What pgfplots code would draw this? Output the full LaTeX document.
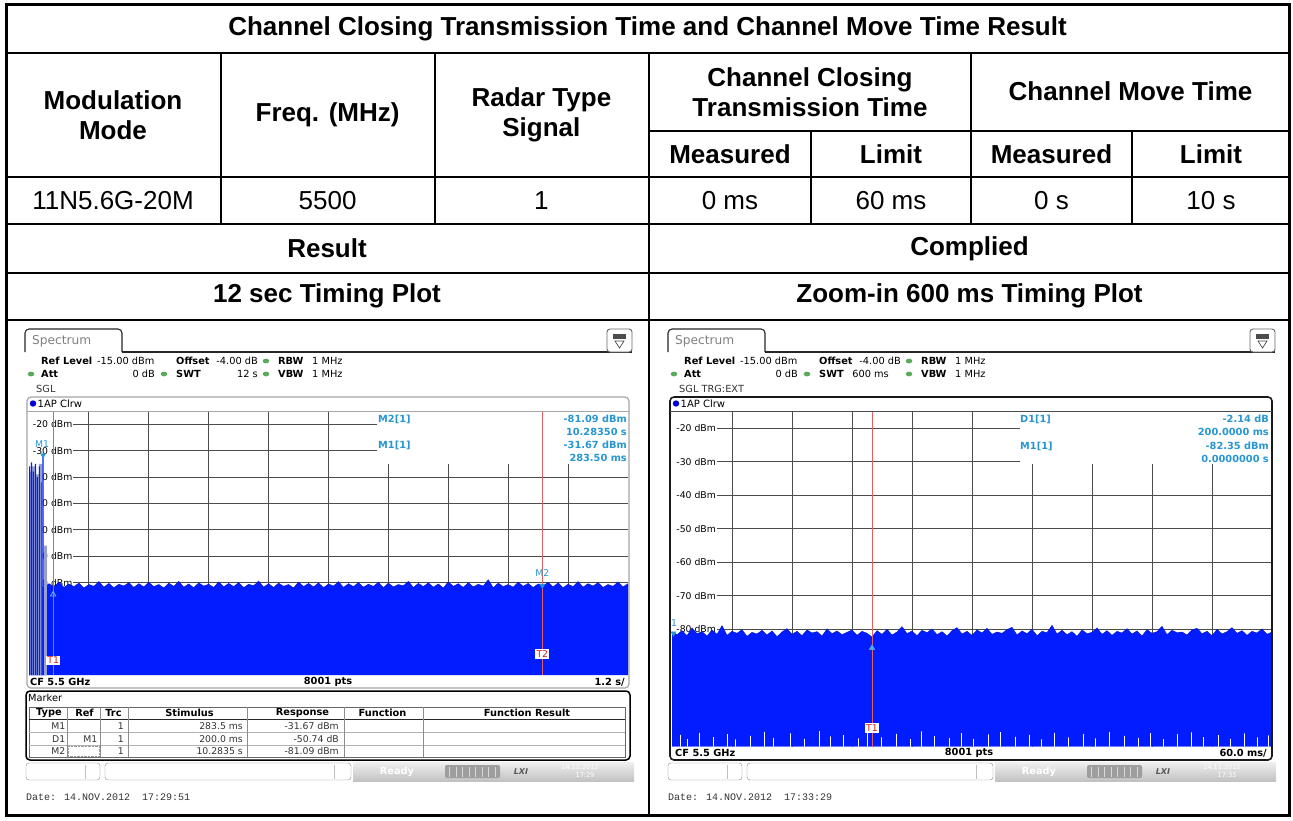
\documentclass[border=0pt]{standalone}
\usepackage{pgfplots}
\pgfplotsset{compat=1.18}
\usepackage{fontspec}
\setmainfont{Liberation Sans}
\newfontfamily\dv{DejaVu Sans}
\newfontfamily\mono{Liberation Mono}
\definecolor{gridc}{RGB}{75,75,75}
\definecolor{trace}{RGB}{0,28,255}
\definecolor{burst}{RGB}{150,160,205}
\definecolor{mk}{RGB}{40,150,210}
\definecolor{redl}{RGB}{228,95,95}
\definecolor{redt}{RGB}{215,30,30}
\definecolor{grn}{RGB}{90,170,90}
\definecolor{frameg}{RGB}{165,165,165}
\newcommand{\tfb}{\fontsize{26}{30}\selectfont\bfseries}
\newcommand{\tfr}{\fontsize{26}{30}\selectfont}
\newcommand{\scr}{\dv\fontsize{9.8}{11}\selectfont}
\newcommand{\scrb}{\dv\bfseries\fontsize{9.8}{11}\selectfont}
\newcommand{\scrl}{\dv\fontsize{9.3}{11}\selectfont}

\newcommand{\chrome}[3]{%
 \draw[line width=1.1pt, black!85, rounded corners=4pt] (25,352)--(25,329)--(122,329)--(122,352);
 \draw[line width=1.1pt, black!85] (122,352)--(632,352);
 \draw[line width=0.9pt, black!60, rounded corners=3pt, fill=white] (607,329) rectangle (632,352);
 \fill[black!70] (613,333.5) rectangle (626,338.5);
 \draw[black!70, line width=0.7pt] (615,341)--(624,341)--(619.5,348)--cycle;
 \node[anchor=west, text=black!50, font=\dv\fontsize{12.2}{14}\selectfont] at (32,341.5) {Spectrum};
 \node[anchor=west, font=\scrb] at (41,361) {Ref Level};
 \node[anchor=west, font=\scr] at (97,361) {-15.00 dBm};
 \node[anchor=west, font=\scrb] at (176,361) {Offset};
 \node[anchor=east, font=\scr] at (258,361) {-4.00 dB};
 \fill[grn] (266,361) ellipse (3.3 and 2.4);
 \node[anchor=west, font=\scrb] at (278,361) {RBW};
 \node[anchor=west, font=\scr] at (312,361) {1 MHz};
 \fill[grn] (31,374) ellipse (3.3 and 2.4);
 \node[anchor=west, font=\scrb] at (41,374) {Att};
 \node[anchor=east, font=\scr] at (155,374) {0 dB};
 \fill[grn] (164,374) ellipse (3.3 and 2.4);
 \node[anchor=west, font=\scrb] at (176,374) {SWT};
 \node[anchor=east, font=\scr] at (#2,374) {#1};
 \fill[grn] (266,374) ellipse (3.3 and 2.4);
 \node[anchor=west, font=\scrb] at (278,374) {VBW};
 \node[anchor=west, font=\scr] at (312,374) {1 MHz};
 \node[anchor=west, font=\scr, text=black!80] at (36,389) {#3};
}
\newcommand{\status}[2]{%
 \draw[black!45, rounded corners=3pt, fill=white] (26,763) rectangle (100,780);
 \draw[black!25] (85,764.5)--(85,778.5);
 \draw[black!45, rounded corners=3pt, fill=white] (105,763) rectangle (351,780);
 \draw[black!25] (334,764.5)--(334,778.5);
 \shade[top color=black!6, bottom color=black!24] (353,762) rectangle (634,781);
 \node[font=\scrb, text=white] at (397,771.5) {Ready};
 \fill[black!38, rounded corners=2pt] (445,765) rectangle (500,778);
 \foreach \i in {0,...,7} \draw[black!15, line width=0.6pt] ({449.5+\i*6.5},766.5)--({449.5+\i*6.5},776.5);
 \node[font=\dv\bfseries\itshape\fontsize{8}{9}\selectfont, text=black!65] at (521,771.5) {LXI};
 \node[font=\dv\fontsize{6.5}{7}\selectfont, text=white] at (580,767.5) {14.11.2012};
 \node[font=\dv\fontsize{6.5}{7}\selectfont, text=white] at (585,775.5) {#2};
 \node[anchor=west, font=\mono\fontsize{10}{12}\selectfont, text=black!80] at (26,797) {Date: 14.NOV.2012~~#1};
}

\begin{document}
\begin{tikzpicture}[x=1pt,y=-1pt, every node/.append style={inner sep=0pt}]
\fill[white] (0,0) rectangle (1293,820);

% ---------------- table text
\node[font=\tfb] at (647.5,28.5) {Channel Closing Transmission Time and Channel Move Time Result};
\node[font=\tfb, align=center] at (113,115) {Modulation\\Mode};
\node[font=\tfb] at (327.6,115) {Freq. (MHz)};
\node[font=\tfb, align=center] at (541.4,115) {Radar Type\\Signal};
\node[font=\tfb, align=center] at (810,92) {Channel Closing\\Transmission Time};
\node[font=\tfb] at (1130.5,91) {Channel Move Time};
\node[font=\tfb] at (730,154) {Measured};
\node[font=\tfb] at (891,154) {Limit};
\node[font=\tfb] at (1051.5,154) {Measured};
\node[font=\tfb] at (1211,154) {Limit};
\node[font=\tfr] at (113,201) {11N5.6G-20M};
\node[font=\tfr] at (327.6,201) {5500};
\node[font=\tfr] at (541.4,201) {1};
\node[font=\tfr] at (730,201) {0 ms};
\node[font=\tfr] at (891,201) {60 ms};
\node[font=\tfr] at (1051.5,201) {0 s};
\node[font=\tfr] at (1211,201) {10 s};
\node[font=\tfb] at (327,248.5) {Result};
\node[font=\tfb] at (969.5,248.5) {Complied};
\node[font=\tfb] at (327,296) {12 sec Timing Plot};
\node[font=\tfb] at (969.5,296) {Zoom-in 600 ms Timing Plot};

% ---------------- left plot
\begin{axis}[at={(29pt,-411pt)}, anchor=north west, scale only axis, width=599pt, height=264pt,
 xmin=0,xmax=12,ymin=-115,ymax=-15,
 xtick={1.2,2.4,3.6,4.8,6,7.2,8.4,9.6,10.8}, ytick={-20,-30,-40,-50,-60,-70,-80,-90,-100,-110},
 xticklabels={},yticklabels={}, tick style={draw=none}, axis line style={draw=none},
 grid=major, major grid style={draw=gridc, line width=0.9pt}]
\fill[white] (axis cs:6.97,-14) rectangle (axis cs:12.1,-35.1);
\fill[white] (axis cs:-0.1,-14) rectangle (axis cs:0.1,-85);
\node[anchor=west, fill=white, inner sep=0.7pt, font=\scrl, xshift=3pt] at (axis cs:0,-20) {-20 dBm};
\node[anchor=west, fill=white, inner sep=0.7pt, font=\scrl, xshift=3pt] at (axis cs:0,-30) {-30 dBm};
\node[anchor=west, fill=white, inner sep=0.7pt, font=\scrl, xshift=3pt] at (axis cs:0,-40) {-40 dBm};
\node[anchor=west, fill=white, inner sep=0.7pt, font=\scrl, xshift=3pt] at (axis cs:0,-50) {-50 dBm};
\node[anchor=west, fill=white, inner sep=0.7pt, font=\scrl, xshift=3pt] at (axis cs:0,-60) {-60 dBm};
\node[anchor=west, fill=white, inner sep=0.7pt, font=\scrl, xshift=3pt] at (axis cs:0,-70) {-70 dBm};
\node[anchor=west, fill=white, inner sep=0.7pt, font=\scrl, xshift=3pt] at (axis cs:0,-80) {-80 dBm};
% noise floor
\addplot[fill=trace, draw=trace!75!black, line width=0.35pt] coordinates {
(0,-115)(0,-80.6)(0.1,-81.7)(0.2,-80.1)(0.3,-81.9)(0.4,-80.4)(0.5,-81.6)(0.6,-79.8)(0.7,-81.8)(0.8,-80.5)(0.9,-81.5)
(1.0,-80.2)(1.1,-82.0)(1.2,-80.7)(1.3,-81.4)(1.4,-79.6)(1.5,-81.7)(1.6,-80.3)(1.7,-81.9)(1.8,-80.6)(1.9,-81.3)
(2.0,-80.0)(2.1,-81.8)(2.2,-80.4)(2.3,-81.6)(2.4,-79.9)(2.5,-81.5)(2.6,-80.7)(2.7,-82.0)(2.8,-80.2)(2.9,-81.4)
(3.0,-79.5)(3.1,-81.7)(3.2,-80.5)(3.3,-81.9)(3.4,-80.1)(3.5,-81.3)(3.6,-80.6)(3.7,-81.8)(3.8,-79.7)(3.9,-81.6)
(4.0,-80.3)(4.1,-81.5)(4.2,-80.0)(4.3,-81.9)(4.4,-80.6)(4.5,-81.2)(4.6,-79.4)(4.7,-81.7)(4.8,-80.4)(4.9,-81.8)
(5.0,-80.2)(5.1,-81.4)(5.2,-80.7)(5.3,-82.0)(5.4,-79.8)(5.5,-81.5)(5.6,-80.3)(5.7,-81.6)(5.8,-80.1)(5.9,-81.9)
(6.0,-80.5)(6.1,-81.3)(6.2,-79.6)(6.3,-81.8)(6.4,-80.4)(6.5,-81.5)(6.6,-80.0)(6.7,-81.7)(6.8,-80.6)(6.9,-81.4)
(7.0,-79.9)(7.1,-81.9)(7.2,-80.2)(7.3,-81.6)(7.4,-80.7)(7.5,-81.2)(7.6,-79.5)(7.7,-81.8)(7.8,-80.3)(7.9,-81.5)
(8.0,-80.1)(8.1,-81.7)(8.2,-80.5)(8.3,-82.0)(8.4,-79.7)(8.5,-81.4)(8.6,-80.4)(8.7,-81.8)(8.8,-80.0)(8.9,-81.6)
(9.0,-80.6)(9.1,-81.3)(9.2,-78.9)(9.3,-81.9)(9.4,-80.2)(9.5,-81.5)(9.6,-80.7)(9.7,-81.7)(9.8,-79.8)(9.9,-81.4)
(10.0,-80.3)(10.1,-81.8)(10.2,-80.5)(10.3,-81.2)(10.4,-79.9)(10.5,-81.6)(10.6,-80.1)(10.7,-81.9)(10.8,-80.6)(10.9,-81.5)
(11.0,-79.6)(11.1,-81.7)(11.2,-80.4)(11.3,-81.3)(11.4,-80.0)(11.5,-81.8)(11.6,-80.7)(11.7,-81.4)(11.8,-79.7)(11.9,-81.6)
(12.0,-80.4)(12.0,-115)};
% burst (grey envelope)
\addplot[fill=burst, draw=none] coordinates {
(0,-115)(0,-38)(0.05,-38)(0.05,-36)(0.12,-36)(0.12,-39)(0.2,-39)(0.2,-35)(0.27,-35)(0.27,-115)
(0.3,-115)(0.3,-66)(0.36,-66)(0.36,-115)};
% burst (blue pulses)
\addplot[fill=trace, draw=none] coordinates {
(0,-115)(0,-36)(0.025,-36)(0.025,-115)(0.04,-115)(0.04,-34.5)(0.065,-34.5)(0.065,-115)
(0.08,-115)(0.08,-38)(0.1,-38)(0.1,-115)(0.12,-115)(0.12,-35)(0.145,-35)(0.145,-115)
(0.16,-115)(0.16,-40)(0.18,-40)(0.18,-115)(0.2,-115)(0.2,-36)(0.22,-36)(0.22,-115)
(0.24,-115)(0.24,-42)(0.255,-42)(0.255,-115)(0.27,-115)(0.27,-31.7)(0.295,-31.7)(0.295,-115)};
% display lines
\addplot[redl, line width=0.9pt] coordinates {(0.4835,-15)(0.4835,-115)};
\addplot[redl, line width=0.9pt] coordinates {(10.2835,-15)(10.2835,-115)};
% markers
\addplot[only marks, mark=triangle*, mark size=3pt, mark options={rotate=180, fill=mk, draw=mk}] coordinates {(0.2835,-31.67)(10.2835,-81.09)};
\addplot[only marks, mark=triangle, mark size=3pt, mark options={draw=mk!70!white, line width=0.8pt}] coordinates {(0.4835,-84.5)};
\node[font=\scrl, text=mk] at (axis cs:0.26,-27.4) {M1};
\node[font=\scrl, text=mk] at (axis cs:10.2835,-76.4) {M2};
\node[fill=white, inner sep=1.2pt, text=redt, font=\scrl] at (axis cs:0.4835,-109.5) {T1};
\node[fill=white, inner sep=1.2pt, text=redt, font=\scrl] at (axis cs:10.2835,-107) {T2};
\end{axis}

% ---------------- right plot
\begin{axis}[at={(672pt,-411.5pt)}, anchor=north west, scale only axis, width=600pt, height=335pt,
 xmin=0,xmax=600,ymin=-115,ymax=-15,
 xtick={60,120,180,240,300,360,420,480,540}, ytick={-20,-30,-40,-50,-60,-70,-80,-90,-100,-110},
 xticklabels={},yticklabels={}, tick style={draw=none}, axis line style={draw=none},
 grid=major, major grid style={draw=gridc, line width=0.9pt}]
\fill[white] (axis cs:348,-14) rectangle (axis cs:601,-30.6);
\fill[white] (axis cs:-5,-14) rectangle (axis cs:4.5,-85);
\node[anchor=west, fill=white, inner sep=0.7pt, font=\scrl, xshift=3.5pt] at (axis cs:0,-20) {-20 dBm};
\node[anchor=west, fill=white, inner sep=0.7pt, font=\scrl, xshift=3.5pt] at (axis cs:0,-30) {-30 dBm};
\node[anchor=west, fill=white, inner sep=0.7pt, font=\scrl, xshift=3.5pt] at (axis cs:0,-40) {-40 dBm};
\node[anchor=west, fill=white, inner sep=0.7pt, font=\scrl, xshift=3.5pt] at (axis cs:0,-50) {-50 dBm};
\node[anchor=west, fill=white, inner sep=0.7pt, font=\scrl, xshift=3.5pt] at (axis cs:0,-60) {-60 dBm};
\node[anchor=west, fill=white, inner sep=0.7pt, font=\scrl, xshift=3.5pt] at (axis cs:0,-70) {-70 dBm};
\node[anchor=west, fill=white, inner sep=0.7pt, font=\scrl, xshift=3.5pt] at (axis cs:0,-80) {-80 dBm};
\addplot[fill=trace, draw=trace!75!black, line width=0.35pt] coordinates {
(0,-115)(0,-80.8)(5,-81.6)(10,-80.4)(15,-81.9)(20,-79.6)(25,-81.3)(30,-80.7)(35,-82.0)(40,-80.2)(45,-81.5)
(50,-78.9)(55,-81.8)(60,-80.6)(65,-81.2)(70,-80.1)(75,-82.1)(80,-80.9)(85,-81.4)(90,-80.3)(95,-81.7)
(100,-80.5)(105,-82.2)(110,-80.8)(115,-79.8)(120,-81.5)(125,-80.6)(130,-81.9)(135,-80.2)(140,-81.1)(145,-80.7)
(150,-82.0)(155,-79.9)(160,-81.3)(165,-80.5)(170,-81.6)(175,-80.9)(180,-80.2)(185,-81.8)(190,-80.6)(195,-81.2)
(200,-82.3)(205,-80.4)(210,-81.5)(215,-80.0)(220,-81.7)(225,-80.8)(230,-79.2)(235,-81.3)(240,-80.5)(245,-81.9)
(250,-80.3)(255,-81.0)(260,-79.9)(265,-81.6)(270,-80.7)(275,-82.0)(280,-80.4)(285,-79.5)(290,-81.4)(295,-80.6)
(300,-81.8)(305,-80.2)(310,-81.1)(315,-79.7)(320,-81.5)(325,-80.8)(330,-81.2)(335,-80.1)(340,-79.4)(345,-81.7)
(350,-80.5)(355,-81.3)(360,-80.0)(365,-81.9)(370,-80.6)(375,-81.0)(380,-78.8)(385,-81.4)(390,-80.3)(395,-81.6)
(400,-80.7)(405,-82.1)(410,-80.2)(415,-81.3)(420,-80.9)(425,-79.6)(430,-81.5)(435,-80.4)(440,-81.8)(445,-80.6)
(450,-81.1)(455,-79.8)(460,-81.4)(465,-80.5)(470,-82.0)(475,-80.1)(480,-81.2)(485,-80.7)(490,-79.1)(495,-81.6)
(500,-80.3)(505,-81.0)(510,-80.8)(515,-81.7)(520,-80.2)(525,-79.7)(530,-81.3)(535,-80.6)(540,-81.9)(545,-80.0)
(550,-81.4)(555,-80.7)(560,-79.5)(565,-81.2)(570,-80.4)(575,-81.8)(580,-80.6)(585,-81.1)(590,-79.9)(595,-81.5)
(600,-80.8)(600,-115)};
% minimum envelope gaps at the bottom
\addplot[fill=white, draw=none] coordinates {
(0,-115)(8,-115)(8,-111.5)(8.9,-111.5)(8.9,-115)(15,-115)(15,-112.8)(15.9,-112.8)(15.9,-115)
(27,-115)(27,-110.9)(27.9,-110.9)(27.9,-115)(41,-115)(41,-112.2)(41.9,-112.2)(41.9,-115)
(55,-115)(55,-111.3)(55.9,-111.3)(55.9,-115)(63,-115)(63,-112.9)(63.9,-112.9)(63.9,-115)
(78,-115)(78,-111.8)(78.9,-111.8)(78.9,-115)(92,-115)(92,-110.6)(92.9,-110.6)(92.9,-115)
(101,-115)(101,-112.4)(101.9,-112.4)(101.9,-115)(118,-115)(118,-111.1)(118.9,-111.1)(118.9,-115)
(132,-115)(132,-112.7)(132.9,-112.7)(132.9,-115)(147,-115)(147,-110.4)(147.9,-110.4)(147.9,-115)
(158,-115)(158,-112.0)(158.9,-112.0)(158.9,-115)(171,-115)(171,-111.6)(171.9,-111.6)(171.9,-115)
(186,-115)(186,-112.6)(186.9,-112.6)(186.9,-115)(195,-115)(195,-110.8)(195.9,-110.8)(195.9,-115)
(209,-115)(209,-112.3)(209.9,-112.3)(209.9,-115)(224,-115)(224,-111.2)(224.9,-111.2)(224.9,-115)
(238,-115)(238,-112.8)(238.9,-112.8)(238.9,-115)(249,-115)(249,-110.5)(249.9,-110.5)(249.9,-115)
(262,-115)(262,-111.9)(262.9,-111.9)(262.9,-115)(277,-115)(277,-112.5)(277.9,-112.5)(277.9,-115)
(289,-115)(289,-111.0)(289.9,-111.0)(289.9,-115)(301,-115)(301,-112.7)(301.9,-112.7)(301.9,-115)
(316,-115)(316,-111.4)(316.9,-111.4)(316.9,-115)(328,-115)(328,-110.7)(328.9,-110.7)(328.9,-115)
(343,-115)(343,-112.1)(343.9,-112.1)(343.9,-115)(357,-115)(357,-111.5)(357.9,-111.5)(357.9,-115)
(369,-115)(369,-112.9)(369.9,-112.9)(369.9,-115)(382,-115)(382,-110.9)(382.9,-110.9)(382.9,-115)
(396,-115)(396,-112.3)(396.9,-112.3)(396.9,-115)(411,-115)(411,-111.2)(411.9,-111.2)(411.9,-115)
(423,-115)(423,-112.6)(423.9,-112.6)(423.9,-115)(437,-115)(437,-110.6)(437.9,-110.6)(437.9,-115)
(452,-115)(452,-111.8)(452.9,-111.8)(452.9,-115)(466,-115)(466,-112.4)(466.9,-112.4)(466.9,-115)
(478,-115)(478,-111.0)(478.9,-111.0)(478.9,-115)(491,-115)(491,-112.8)(491.9,-112.8)(491.9,-115)
(505,-115)(505,-111.3)(505.9,-111.3)(505.9,-115)(519,-115)(519,-110.8)(519.9,-110.8)(519.9,-115)
(531,-115)(531,-112.2)(531.9,-112.2)(531.9,-115)(546,-115)(546,-111.6)(546.9,-111.6)(546.9,-115)
(558,-115)(558,-112.7)(558.9,-112.7)(558.9,-115)(572,-115)(572,-111.1)(572.9,-111.1)(572.9,-115)
(585,-115)(585,-112.3)(585.9,-112.3)(585.9,-115)(596,-115)(596,-111.7)(596.9,-111.7)(596.9,-115)(600,-115)};
\addplot[redl, line width=0.9pt] coordinates {(200,-15)(200,-115)};
\addplot[only marks, mark=triangle*, mark size=3pt, mark options={rotate=180, fill=mk, draw=mk}] coordinates {(1.5,-81.2)};
\addplot[only marks, mark=triangle*, mark size=3.2pt, mark options={fill=mk!80!white, draw=mk!80!white}] coordinates {(200,-85.6)};
\node[font=\scrl, text=mk] at (axis cs:2,-78.1) {1};
\node[fill=white, inner sep=1.2pt, text=redt, font=\scrl] at (axis cs:200,-109.5) {T1};
\end{axis}

% ---------------- left screenshot chrome
\chrome{12 s}{258}{SGL}
\draw[frameg, line width=1.2pt, rounded corners=4pt] (27,397) rectangle (629,688);
\draw[frameg, line width=1pt] (27,411)--(629,411);
\fill[blue!85!black] (33,403.5) circle (3.2);
\node[anchor=west, font=\dv\fontsize{10}{11}\selectfont] at (37.5,403.5) {1AP Clrw};
\node[anchor=west, font=\scrb, text=mk] at (378,419) {M2[1]};
\node[anchor=east, font=\scrb, text=mk] at (627,419) {-81.09 dBm};
\node[anchor=east, font=\scrb, text=mk] at (627,431.5) {10.28350 s};
\node[anchor=west, font=\scrb, text=mk] at (378,445) {M1[1]};
\node[anchor=east, font=\scrb, text=mk] at (627,445) {-31.67 dBm};
\node[anchor=east, font=\scrb, text=mk] at (627,458) {283.50 ms};
\node[anchor=west, font=\scrb] at (30,682) {CF 5.5 GHz};
\node[font=\scrb] at (328,682) {8001 pts};
\node[anchor=east, font=\scrb] at (625,682) {1.2 s/};
% marker table
\draw[line width=1.5pt, rounded corners=4pt] (26,691) rectangle (630,760);
\node[anchor=west, font=\scr] at (28,698) {Marker};
\draw[black!60, line width=0.8pt] (29,707) rectangle (625,757);
\draw[black!85, line width=1pt] (29,719)--(625,719);
\draw[black!30] (29,732)--(625,732) (29,745)--(625,745);
\foreach \c in {67,100,128,247,344,423} \draw[black!45] (\c,707)--(\c,757);
\node[font=\scrb] at (49,713) {Type};
\node[font=\scrb] at (84.5,713) {Ref};
\node[font=\scrb] at (113.5,713) {Trc};
\node[font=\scrb] at (189.5,713) {Stimulus};
\node[font=\scrb] at (302.5,713) {Response};
\node[font=\scrb] at (382.5,713) {Function};
\node[font=\scrb] at (527,713) {Function Result};
\node[anchor=east, font=\scrl, text=black!80] at (65.5,726) {M1};
\node[anchor=east, font=\scrl, text=black!80] at (124,726) {1};
\node[anchor=east, font=\scrl, text=black!80] at (243,726) {283.5 ms};
\node[anchor=east, font=\scrl, text=black!80] at (339,726) {-31.67 dBm};
\node[anchor=east, font=\scrl, text=black!80] at (65.5,739) {D1};
\node[anchor=east, font=\scrl, text=black!80] at (97.5,739) {M1};
\node[anchor=east, font=\scrl, text=black!80] at (124,739) {1};
\node[anchor=east, font=\scrl, text=black!80] at (243,739) {200.0 ms};
\node[anchor=east, font=\scrl, text=black!80] at (339,739) {-50.74 dB};
\node[anchor=east, font=\scrl, text=black!80] at (65.5,751) {M2};
\draw[black!40, densely dotted] (68,746)--(99,746)--(99,756)--(68,756)--cycle;
\node[anchor=east, font=\scrl, text=black!80] at (124,751) {1};
\node[anchor=east, font=\scrl, text=black!80] at (243,751) {10.2835 s};
\node[anchor=east, font=\scrl, text=black!80] at (339,751) {-81.09 dBm};
\status{17:29:51}{17:29}

% ---------------- right screenshot chrome
\begin{scope}[xshift=643pt]
\chrome{600 ms}{246}{SGL TRG:EXT}
\end{scope}
\draw[black!90, line width=1.6pt, rounded corners=4pt] (670,397) rectangle (1272,760);
\draw[black!70, line width=1pt] (670,411)--(1272,411);
\fill[blue!85!black] (676,403.5) circle (3.2);
\node[anchor=west, font=\dv\fontsize{10}{11}\selectfont] at (680.5,403.5) {1AP Clrw};
\node[anchor=west, font=\scrb, text=mk] at (1020,419) {D1[1]};
\node[anchor=east, font=\scrb, text=mk] at (1269,419) {-2.14 dB};
\node[anchor=east, font=\scrb, text=mk] at (1269,432) {200.0000 ms};
\node[anchor=west, font=\scrb, text=mk] at (1020,446) {M1[1]};
\node[anchor=east, font=\scrb, text=mk] at (1269,446) {-82.35 dBm};
\node[anchor=east, font=\scrb, text=mk] at (1269,458.5) {0.0000000 s};
\node[anchor=west, font=\scrb] at (675,753) {CF 5.5 GHz};
\node[font=\scrb] at (969,753) {8001 pts};
\node[anchor=east, font=\scrb] at (1267,753) {60.0 ms/};
\begin{scope}[xshift=642pt]
\status{17:33:29}{17:33}
\end{scope}

% ---------------- table rules
\draw[line width=2pt] (6,52.7)--(1290,52.7) (6,177)--(1290,177) (6,224)--(1290,224)
  (6,273)--(1290,273) (6,320)--(1290,320) (649,130.7)--(1290,130.7);
\draw[line width=2pt] (220.5,52.7)--(220.5,224) (434.8,52.7)--(434.8,224) (648.5,52.7)--(648.5,815)
  (811,130.7)--(811,224) (971,52.7)--(971,224) (1132,130.7)--(1132,224);
\draw[line width=3pt] (6.5,4.5) rectangle (1289.5,815.5);

\pgfresetboundingbox
\useasboundingbox (0,0) rectangle (1293,820);
\end{tikzpicture}
\end{document}
